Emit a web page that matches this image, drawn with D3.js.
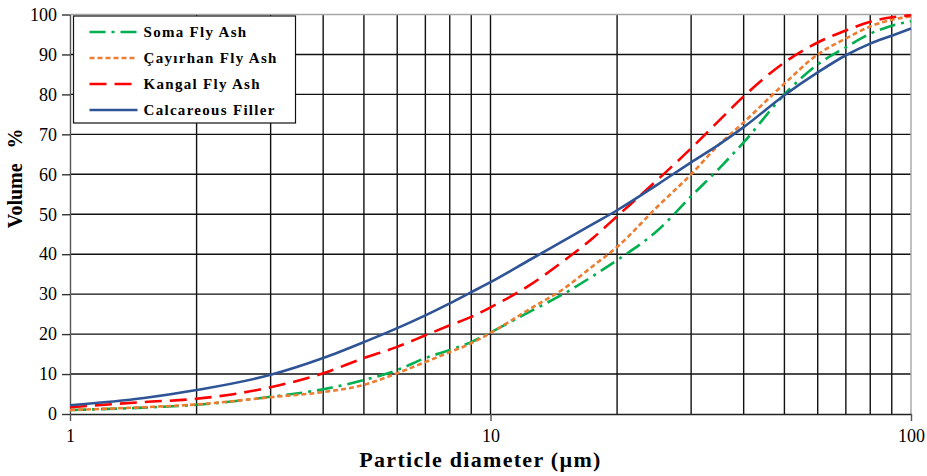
<!DOCTYPE html>
<html>
<head>
<meta charset="utf-8">
<script src="https://cdn.jsdelivr.net/npm/d3@7"></script>
<style>
  body { margin: 0; background: #fff; }
  text { font-family: "Liberation Serif", "Times New Roman", serif; }
  .tick text { font-size: 18px; fill: #000; }
</style>
</head>
<body>
<div id="chart"></div>
<script>
// particle diameter (um) and cumulative volume (%)
const diameters = [1, 1.5, 2, 3, 4, 5, 6, 7, 8, 9, 10, 12.5, 15, 17.5, 20, 25, 30, 35, 40, 50, 60, 70, 80, 90, 100]
const somaFlyAsh = [1, 1.6, 2.3, 4.3, 6.2, 8.5, 11, 14, 16, 18, 20.4, 25.8, 30.2, 34.5, 38.5, 46, 54.5, 61.5, 68, 80, 87.5, 91.8, 95.2, 97.2, 98.3]
const cayirhanFlyAsh = [1, 1.7, 2.4, 4.2, 5.5, 7.3, 10.2, 13, 15.5, 17.7, 20.3, 26.5, 31.5, 37, 41.8, 52, 60, 67.5, 73, 82.7, 90, 94, 97, 98.7, 99.5]
const kangalFlyAsh = [1.7, 3, 3.8, 6.7, 10.2, 14, 16.8, 19.7, 22.2, 24.3, 26.7, 32.5, 38.5, 44, 49.5, 58.7, 66.5, 73.5, 79.5, 88, 93, 96, 98.2, 99.3, 99.8]
const calcareousFiller = [2.2, 4, 6, 9.8, 14, 18, 21.5, 24.7, 27.7, 30.5, 33, 38.8, 43.5, 47.5, 51, 57.5, 63, 67.5, 71.8, 79.8, 85.5, 89.8, 92.7, 94.7, 96.5]

const seriesNames = ["Soma Fly Ash", "Çayırhan Fly Ash", "Kangal Fly Ash", "Calcareous Filler"]
const seriesValues = [somaFlyAsh, cayirhanFlyAsh, kangalFlyAsh, calcareousFiller]
const seriesColors = ["#00b050", "#ed7d31", "#ff0000", "#2f5496"]
const seriesDash = ["16,6,3,6", "5,3", "17,8", null]

const xTicks = [1, 10, 100]
const xGrid = [2, 3, 4, 5, 6, 7, 8, 9, 10, 20, 30, 40, 50, 60, 70, 80, 90]
const yTicks = [0, 10, 20, 30, 40, 50, 60, 70, 80, 90, 100]

let margin = { top: 14.5, right: 16, bottom: 62, left: 70 },
    W = 927,
    H = 476,
    width = W - margin.left - margin.right,
    height = H - margin.top - margin.bottom;

let x = d3.scaleLog().domain([1, 100]).range([0, width])
let y = d3.scaleLinear().domain([0, 100]).range([height, 0])

let svg = d3.select("#chart").append("svg")
    .attr("width", W)
    .attr("height", H)
  .append("g")
    .attr("transform", `translate(${margin.left},${margin.top})`);

// grid
svg.append("g").selectAll("line")
    .data(yTicks.filter(d => d > 0 && d < 100))
  .join("line")
    .attr("x1", 0).attr("x2", width)
    .attr("y1", d => y(d)).attr("y2", d => y(d))
    .attr("stroke", "#111").attr("stroke-width", 1.4)

svg.append("g").selectAll("line")
    .data(xGrid)
  .join("line")
    .attr("x1", d => x(d)).attr("x2", d => x(d))
    .attr("y1", 0).attr("y2", height)
    .attr("stroke", "#111").attr("stroke-width", 1.4)

// top and right border
svg.append("path")
    .attr("d", `M0,${y(100)}H${x(100)}V${height}`)
    .attr("fill", "none")
    .attr("stroke", "#a6a6a6")
    .attr("stroke-width", 1.4)

// axes
let yAxis = d3.axisLeft(y).tickValues(yTicks).tickSize(8).tickPadding(5).tickSizeOuter(0)
let xAxis = d3.axisBottom(x).tickValues(xTicks).tickFormat(d3.format("d")).tickSize(7).tickPadding(8).tickSizeOuter(0)

svg.append("g")
    .call(yAxis)
    .call(g => g.select(".domain").attr("stroke", "#555").attr("stroke-width", 1.4))
    .call(g => g.selectAll(".tick line").attr("stroke", "#333").attr("stroke-width", 1.4))

svg.append("g")
    .attr("transform", `translate(0,${height})`)
    .call(xAxis)
    .call(g => g.select(".domain").attr("stroke", "#222").attr("stroke-width", 1.4))
    .call(g => g.selectAll(".tick line").attr("stroke", "#555").attr("stroke-width", 1.4))

// curves
let line = d3.line()
    .curve(d3.curveMonotoneX)
    .x((d, i) => x(diameters[i]))
    .y(d => y(d))

svg.append("g").selectAll("path")
    .data(seriesValues)
  .join("path")
    .attr("d", line)
    .attr("fill", "none")
    .attr("stroke", (d, i) => seriesColors[i])
    .attr("stroke-width", 2.6)
    .attr("stroke-dasharray", (d, i) => seriesDash[i])

// legend
let legend = svg.append("g").attr("transform", "translate(3.5,1.5)")
legend.append("rect")
    .attr("width", 222).attr("height", 107)
    .attr("fill", "#fff")
    .attr("stroke", "#111").attr("stroke-width", 1.2)

let rows = legend.selectAll(".row")
    .data(seriesNames)
  .join("g")
    .attr("transform", (d, i) => `translate(0,${16 + i * 26})`)

rows.append("line")
    .attr("x1", 16).attr("x2", 64)
    .attr("stroke", (d, i) => seriesColors[i])
    .attr("stroke-width", 2.6)
    .attr("stroke-dasharray", (d, i) => seriesDash[i])

rows.append("text")
    .attr("x", 70)
    .attr("dy", "0.33em")
    .attr("font-size", 15)
    .attr("font-weight", "bold")
    .attr("letter-spacing", 1.3)
    .text(d => d)

// axis labels
svg.append("text")
    .attr("x", x(10) - 10)
    .attr("y", height + 53)
    .attr("text-anchor", "middle")
    .attr("font-size", 22)
    .attr("font-weight", "bold")
    .attr("letter-spacing", 1.3)
    .text("Particle diameter (µm)")

svg.append("text")
    .attr("transform", `translate(${-48},${y(59)}) rotate(-90)`)
    .attr("text-anchor", "middle")
    .attr("font-size", 20)
    .attr("font-weight", "bold")
    .attr("xml:space", "preserve")
    .text("Volume   %")
</script>
</body>
</html>
